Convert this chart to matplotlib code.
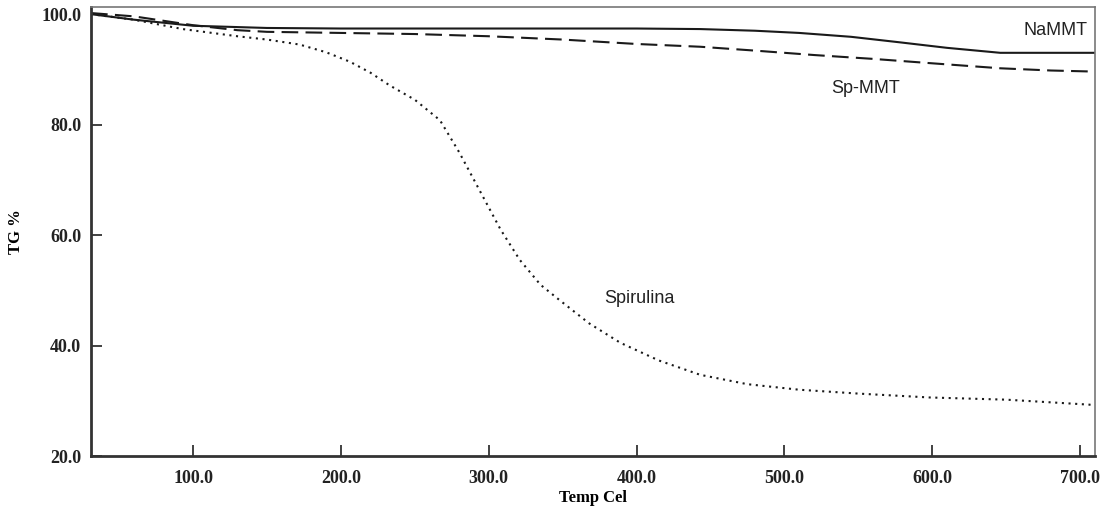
import matplotlib.pyplot as plt

# TG curves (temperature in Cel, mass in %)
temp_na = [31, 60, 100, 150, 200, 300, 400, 443, 480, 510, 545, 578, 610, 646, 680, 710]
tg_na = [100.0, 99.0, 97.9, 97.5, 97.4, 97.4, 97.4, 97.3, 97.0, 96.6, 95.9, 94.9, 93.9, 93.0, 93.0, 93.0]

temp_sp = [31, 60, 100, 130, 150, 200, 250, 300, 350, 400, 443, 480, 520, 560, 600, 646, 680, 710]
tg_sp = [100.2, 99.6, 98.0, 97.1, 96.8, 96.6, 96.4, 96.0, 95.4, 94.6, 94.1, 93.4, 92.6, 91.9, 91.1, 90.2, 89.8, 89.6]

temp_spir = [31, 60, 93, 130, 150, 172, 190, 206, 220, 233, 250, 267, 280, 294, 308, 321, 335, 348, 368,
             389, 415, 443, 475, 510, 550, 598, 650, 706, 710]
tg_spir = [100.0, 99.0, 97.3, 96.0, 95.4, 94.5, 93.1, 91.4, 89.4, 87.1, 84.5, 80.8, 75.0, 68.0, 61.0, 55.5,
           51.0, 48.2, 44.0, 40.5, 37.3, 34.7, 33.0, 32.0, 31.3, 30.6, 30.2, 29.3, 29.2]

x_ticks = [100, 200, 300, 400, 500, 600, 700]
y_ticks = [20, 40, 60, 80, 100]

fig = plt.figure(figsize=(11.02, 5.13), dpi=100)
ax = fig.add_axes([0.0826, 0.1111, 0.911, 0.8753])

ax.plot(temp_na, tg_na, color='#1a1a1a', lw=1.5, ls='-')
ax.plot(temp_sp, tg_sp, color='#1a1a1a', lw=1.5, ls=(0, (8, 3.5)))
ax.plot(temp_spir, tg_spir, color='#1a1a1a', lw=1.5, ls=(0, (1, 2.2)))

lbl = dict(family='Liberation Sans', fontsize=13, color='#222222', ha='center', va='center')
ax.text(683, 97.0, 'NaMMT', **lbl)
ax.text(555, 86.6, 'Sp-MMT', **lbl)
ax.text(402, 48.6, 'Spirulina', **lbl)

ax.set_xlim(31, 710)
ax.set_ylim(20, 101.3)
ax.set_xticks(x_ticks)
ax.set_yticks(y_ticks)
ax.set_xticklabels(['%.1f' % v for v in x_ticks])
ax.set_yticklabels(['%.1f' % v for v in y_ticks])

tick_font = dict(family='Liberation Serif', fontweight='bold', fontsize=13, color='#222222')
for t in ax.get_xticklabels() + ax.get_yticklabels():
    t.set(**tick_font)
ax.tick_params(axis='both', direction='in', length=8, width=1.3, color='#333333')
ax.tick_params(axis='x', pad=10)
ax.tick_params(axis='y', pad=7)

ax.set_xlabel('Temp Cel', family='Liberation Serif', fontweight='bold', fontsize=12)
ax.set_ylabel('TG %', family='Liberation Serif', fontweight='bold', fontsize=12)
ax.xaxis.set_label_coords(0.5, -0.093)
ax.yaxis.set_label_coords(-0.075, 0.5)
ax.xaxis.label.set_va('center')
ax.yaxis.label.set_va('center')

for side in ['left', 'bottom']:
    ax.spines[side].set_linewidth(2)
    ax.spines[side].set_color('#333333')
for side in ['top', 'right']:
    ax.spines[side].set_linewidth(1.2)
    ax.spines[side].set_color('#777777')

fig.savefig('out.png', dpi=100)
